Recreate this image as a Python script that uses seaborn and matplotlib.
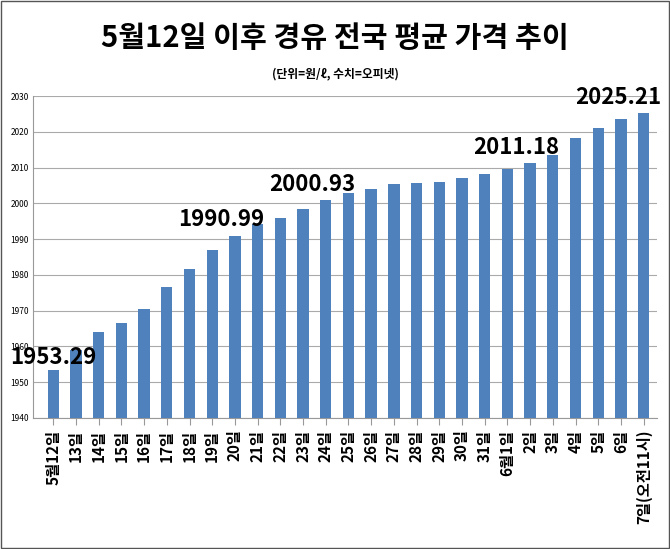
import numpy as np, pandas as pd
import seaborn as sns, matplotlib.pyplot as plt

plt.rcParams["font.family"] = ["Noto Sans CJK JP", "Noto Sans CJK KR",
                               "Noto Sans CJK SC", "DejaVu Sans"]

# ────────── data ──────────
days = ["5월12일"] + [f"{d}일" for d in range(13, 32)] + ["6월1일"] + \
       [f"{d}일" for d in range(2, 7)] + ["7일(오전11시)"]
prices = [1953.29, 1959.0, 1963.9, 1966.4, 1970.5, 1976.5, 1981.5, 1986.8,
          1990.99, 1994.3, 1995.8, 1998.3, 2000.93, 2002.8, 2003.9, 2005.3,
          2005.6, 2006.1, 2007.1, 2008.3, 2009.5, 2011.18, 2013.4, 2018.4,
          2021.2, 2023.7, 2025.21]
labeled = [0, 8, 12, 21, 26]
yticks = list(range(1940, 2031, 10))

df = pd.DataFrame({"day": days, "price": prices})

fig = plt.figure(figsize=(6.70, 5.49), dpi=100)
ax = fig.add_axes([0.049, 0.239, 0.932, 0.586])
sns.barplot(data=df, x="day", y="price", color="#4f81bd", width=0.5,
            saturation=1, ax=ax, zorder=3)
ax.set_ylim(1940, 2030)
ax.set_yticks(yticks)
ax.tick_params(axis="y", labelsize=6, length=0, pad=3)
ax.tick_params(axis="x", labelsize=11, rotation=90, length=5, color="#999999")
for t in ax.get_xticklabels():
    t.set_fontweight("bold")
ax.grid(axis="y", color="#aaaaaa", lw=0.8, zorder=0)
ax.set_xlabel(""); ax.set_ylabel("")
ax.set_xlim(-0.9, len(days) - 0.4)
for s in ["top", "right"]:
    ax.spines[s].set_visible(False)
for s in ["left", "bottom"]:
    ax.spines[s].set_color("#999999")

for i in labeled:
    dx = {0: 0.0, 26: -1.1}.get(i, -0.6)
    ax.text(i + dx, prices[i] + (0.3 if i == 0 else 1.2), f"{prices[i]:.2f}",
            ha="center", va="bottom", fontsize=16, fontweight="bold", zorder=5)

fig.text(0.5, 0.915, "5월12일 이후 경유 전국 평균 가격 추이", ha="center",
         fontsize=21, fontweight="bold")
fig.text(0.5, 0.86, "(단위=원/ℓ, 수치=오피넷)", ha="center",
         fontsize=8.5, fontweight="bold")
fig.patches.append(plt.Rectangle((0.002, 0.002), 0.996, 0.996, fill=False,
                                 lw=1, ec="#555555", transform=fig.transFigure))
fig.savefig("out.png", dpi=100)
